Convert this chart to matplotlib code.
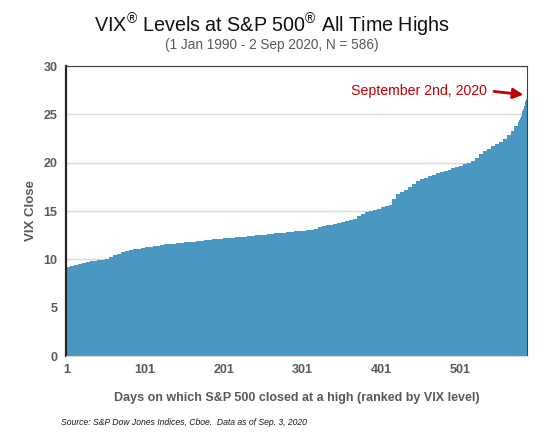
import numpy as np
from matplotlib import pyplot as plt

plt.rcParams['font.family'] = ['Liberation Sans', 'DejaVu Sans']
plt.rcParams['mathtext.fontset'] = 'custom'
plt.rcParams['mathtext.rm'] = 'Liberation Sans'

# VIX close on S&P 500 all-time-high days, sorted; one value per 5 ranks (1-575)
vix_5day = [9.20, 9.33, 9.45, 9.55, 9.65, 9.75, 9.80, 9.85, 9.90, 9.93,
            10.00, 10.20, 10.45, 10.60, 10.75, 10.85, 10.95, 11.02, 11.10, 11.17,
            11.24, 11.30, 11.36, 11.42, 11.48, 11.54, 11.58, 11.62, 11.67, 11.71,
            11.75, 11.79, 11.84, 11.88, 11.93, 11.98, 12.03, 12.07, 12.12, 12.15,
            12.18, 12.21, 12.25, 12.28, 12.32, 12.36, 12.39, 12.43, 12.47, 12.51,
            12.55, 12.59, 12.63, 12.68, 12.72, 12.76, 12.80, 12.84, 12.88, 12.92,
            12.96, 13.00, 13.05, 13.15, 13.30, 13.45, 13.53, 13.60, 13.67, 13.75,
            13.83, 13.93, 14.03, 14.20, 14.50, 14.70, 14.90, 15.05, 15.12, 15.22,
            15.40, 15.55, 15.65, 16.20, 16.80, 17.00, 17.17, 17.45, 17.80, 18.10,
            18.30, 18.45, 18.60, 18.75, 18.90, 19.02, 19.15, 19.28, 19.40, 19.55,
            19.68, 19.85, 20.00, 20.20, 20.50, 20.85, 21.20, 21.45, 21.70, 21.90,
            22.10, 22.50, 22.85, 23.25, 23.80]
# ranks 576-586, one value each
vix_top = [24.2, 24.4, 24.6, 24.8, 25.1, 25.3, 25.6, 25.9, 26.2, 26.4, 26.57]

x_ticks = [1, 101, 201, 301, 401, 501]
y_ticks = [0, 5, 10, 15, 20, 25, 30]

blue = '#4a97c1'
gray = '#595959'
red = '#c00000'

fig = plt.figure(figsize=(5.44, 4.4), dpi=100)
ax = fig.add_axes([0.1213, 0.1909, 0.8475, 0.6591])

left5 = 0.5 + 5 * np.arange(len(vix_5day))
ax.bar(left5, vix_5day, width=5, align='edge', color=blue, linewidth=0)
left1 = left5[-1] + 5 + np.arange(len(vix_top))
ax.bar(left1, vix_top, width=1, align='edge', color=blue, linewidth=0)

ax.set_xlim(0.5, 586.5)
ax.set_ylim(0, 30)
ax.set_xticks(x_ticks)
ax.set_yticks(y_ticks)
ax.tick_params(length=0, labelsize=9, labelcolor=gray, pad=6)
for lab in ax.get_xticklabels() + ax.get_yticklabels():
    lab.set_fontweight('bold')
ax.grid(axis='y', color='#d9d9d9', linewidth=1)
ax.set_axisbelow(True)

ax.spines['left'].set_color('#262626')
ax.spines['left'].set_linewidth(1.6)
ax.spines['top'].set_color('#404040')
ax.spines['right'].set_color('#404040')
ax.spines['bottom'].set_color('#d9d9d9')

ax.set_ylabel('VIX Close', fontsize=9.5, fontweight='bold', color=gray, labelpad=5)
ax.set_xlabel('Days on which S&P 500 closed at a high (ranked by VIX level)',
              fontsize=9, fontweight='bold', color=gray, labelpad=11)

fig.text(0.5, 0.942, 'VIX$^{®}$ Levels at S&P 500$^{®}$ All Time Highs', ha='center', va='center',
         fontsize=14.2, color='#111111')
fig.text(0.5, 0.898, '(1 Jan 1990 - 2 Sep 2020, N = 586)', ha='center', va='center',
         fontsize=9.8, color=gray)
fig.text(0.112, 0.04, 'Source: S&P Dow Jones Indices, Cboe.  Data as of Sep. 3, 2020',
         ha='left', va='center', fontsize=6.2, style='italic', color='#1a1a1a')

ax.annotate('', xy=(585.5, 27.0), xytext=(541, 27.4),
            arrowprops=dict(arrowstyle='-|>,head_length=0.6,head_width=0.3',
                            color=red, lw=2))
ax.text(536, 27.4, 'September 2nd, 2020', ha='right', va='center', fontsize=10.2, color=red)

fig.savefig('out.png', dpi=100)
